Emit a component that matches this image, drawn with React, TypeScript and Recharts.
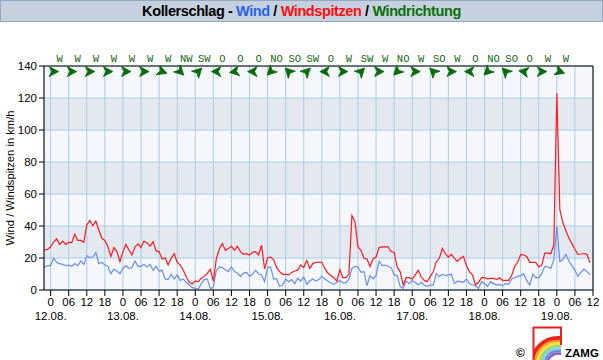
import React from 'react';
import { ComposedChart, Line, Scatter, XAxis, YAxis, CartesianGrid, ReferenceLine } from 'recharts';

// hourly values, first sample is 11.08. 22:00
const START_HOUR = -2;

const gust = [
  25, 25.4,
  27, 30, 32, 28.5, 30.6, 28.5, 29.8, 29.6, 34.8, 31, 31, 29.8, 40.6, 43.5, 40.2, 43, 37.5, 32.3, 31, 27, 21, 26.5, 24, 17.7,
  24, 28.5, 25, 21.9, 26.9, 29, 26.5, 30.6, 29.4, 27.3, 30.2, 24.4, 24, 19.4, 20.2, 15.6, 19.8, 22.7, 17.3, 15.6, 12.5, 8.3, 4.8, 3.8,
  5.6, 5.2, 7.3, 8.5, 10.4, 12.9, 5.6, 19.8, 25.6, 29, 24.8, 26, 27.3, 24.8, 27.3, 24, 22.3, 22.7, 21.9, 23.5, 24, 21.9, 28, 13.1,
  20.2, 20.6, 19, 14, 11.5, 9.8, 9.8, 9.4, 11, 11.9, 12.3, 15.6, 14, 18.5, 13.5, 16.5, 17.3, 17.5, 17.3, 13.5, 10.6, 9, 7.7, 5.6,
  12.7, 7.7, 7.7, 9.8, 46.5, 42.7, 26.9, 24.8, 19.8, 19.4, 14.8, 19.4, 20.6, 26.5, 26.9, 26.9, 26.9, 24, 23.5, 14.4, 11.5, 3.1, 7.7, 7.7,
  6.9, 9.4, 12.3, 8.1, 6, 5.2, 8.5, 11.5, 17.7, 19.8, 26, 22.7, 20.6, 22.3, 19.8, 17.9, 19.8, 21, 15.2, 11.5, 9.4, 3.1, 4.8, 7.7,
  7.7, 6.9, 7.3, 7.3, 6.5, 7.7, 6, 6, 6, 9, 14.8, 17.3, 22.3, 21.9, 21, 17.3, 17.3, 17.3, 14.4, 15.6, 23.1, 23.1, 22.7, 28.1,
  123, 50, 42, 37, 32.5, 29, 25.5, 22.3, 22.5, 22.8, 22.3, 17,
];

const wind = [
  14.4, 15.2,
  15.2, 19.8, 17.3, 16.5, 16, 15.2, 15.6, 14.8, 16.5, 15.2, 18.1, 16, 21.5, 20.2, 20.6, 23.5, 16.5, 17.3, 15.6, 14.8, 10.2, 13.1, 11.9, 10.2,
  13.5, 15.2, 13.5, 14, 18.1, 14.8, 14.8, 16, 14.4, 16, 12.3, 14.8, 11.9, 12.3, 6.9, 6.5, 9.8, 6.9, 9.4, 6, 6.9, 4.8, 3.1, 1.5,
  1, 0.6, 4, 6.5, 6.9, 1, 1.5, 12.3, 14.4, 14, 12.7, 11.5, 14.4, 11.5, 10.6, 8.5, 10.6, 11, 8.5, 9.8, 12.3, 10.2, 9.4, 5.2,
  14, 14.4, 6.9, 6.9, 2.3, 3.1, 6.9, 5.2, 6.5, 4, 7.3, 5.6, 8.1, 3.5, 5.6, 6.9, 5.6, 6.5, 8.5, 6.9, 5.6, 4.4, 3.5, 4.8,
  6, 4.4, 4.4, 6.9, 13.5, 14.8, 14.4, 11, 11.5, 2.7, 9, 6.9, 9, 18.1, 15.2, 15.6, 14.8, 14, 9.4, 9, 2.3, 1, 5.6, 4,
  6, 4.8, 3.1, 4.8, 3.1, 2.3, 3.1, 3.1, 10.2, 8.5, 9.8, 9, 9.4, 9.8, 4, 5.5, 5.2, 4.8, 6.9, 4, 3.1, 2.7, 1, 5.2,
  4, 2.3, 5.2, 4, 3.1, 3.5, 2.7, 4, 3.5, 6.9, 7.7, 8.5, 9, 10.2, 6, 3.1, 9.8, 7.7, 7.7, 10.2, 14.8, 14.4, 13.5, 19,
  39.8, 17.7, 19, 22.3, 18.1, 15.2, 12.3, 8.5, 11, 13.1, 11.5, 9.4,
];

const dayLabels = ['12.08.', '13.08.', '14.08.', '15.08.', '16.08.', '17.08.', '18.08.', '19.08.'];
const hourTicks = [0, 6, 12, 18, 24, 30, 36, 42, 48, 54, 60, 66, 72, 78, 84, 90, 96, 102, 108, 114, 120, 126, 132, 138, 144, 150, 156, 162, 168, 174, 180];
const yTicks = [0, 20, 40, 60, 80, 100, 120, 140];

// wind direction marks along the top
const dirHours = [3, 9, 15, 21, 27, 33, 39, 45, 51, 57, 63, 69, 75, 81, 87, 93, 99, 105, 111, 117, 123, 129, 135, 141, 147, 153, 159, 165, 171];
const dirLabels = ['W', 'W', 'W', 'W', 'W', 'W', 'W', 'NW', 'SW', 'O', 'O', 'O', 'NO', 'SO', 'SW', 'O', 'W', 'SW', 'W', 'NO', 'W', 'SO', 'W', 'O', 'NO', 'SO', 'O', 'W', 'W'];
const dirDegrees = [270, 270, 270, 270, 270, 270, 290, 315, 225, 90, 80, 90, 45, 135, 225, 90, 270, 225, 270, 45, 270, 135, 270, 90, 45, 135, 100, 270, 290];

const ARROW_LEVEL = 136.5;
const GREEN = '#0b6b0b';

const series = gust.map((g, i) => ({ h: START_HOUR + i, gust: g, wind: wind[i] }));
const dirRows = dirHours.map((h, i) => ({ h, lvl: ARROW_LEVEL, label: dirLabels[i], deg: dirDegrees[i] }));

const HourTick = (props: any) => {
  const { x, y, payload } = props;
  const h = payload.value;
  const hh = h % 24;
  const txt = hh === 0 ? '0' : hh === 6 ? '06' : String(hh);
  const day = h / 24;
  return (
    <g>
      <text x={x} y={y} dy="0.71em" textAnchor="middle" fontSize={11.5} fill="#000">{txt}</text>
      {hh === 0 && dayLabels[day] && (
        <text x={x} y={y + 14} dy="0.71em" textAnchor="middle" fontSize={11.5} fill="#000">{dayLabels[day]}</text>
      )}
    </g>
  );
};

const DirMark = (props: any) => {
  const { cx, cy, payload } = props;
  if (cx == null || cy == null) return null;
  const angle = payload.deg + 90;
  return (
    <g>
      <text x={cx} y={cy - 9.5} textAnchor="middle" fontSize={10.5} fontFamily="'Liberation Mono', monospace" fill={GREEN}>
        {payload.label}
      </text>
      <polygon
        points="5,0 -4.5,-5 -2,0 -4.5,5"
        fill={GREEN}
        stroke={GREEN}
        strokeWidth={0.8}
        strokeLinejoin="round"
        transform={`translate(${cx - 6},${cy}) rotate(${angle})`}
      />
    </g>
  );
};

export default function App() {
  return (
    <div style={{ position: 'relative', width: 603, height: 360, background: '#fff', fontFamily: "'Liberation Sans', Arial, sans-serif" }}>
      <style>{'body{margin:0}'}</style>
      <div
        style={{
          position: 'absolute', left: 0, top: 0, width: 601, height: 20, lineHeight: '20px',
          background: '#c5d1de', border: '1px solid #93a8c0', textAlign: 'center',
          fontSize: 14.5, fontWeight: 'bold', letterSpacing: -0.4, color: '#000',
        }}
      >
        <span>Kollerschlag - </span>
        <span style={{ color: '#2a62e6' }}>Wind</span>
        <span> / </span>
        <span style={{ color: '#ff0d0d' }}>Windspitzen</span>
        <span> / </span>
        <span style={{ color: '#0b6e0b' }}>Windrichtung</span>
      </div>

      <ComposedChart width={603} height={360} margin={{ top: 66, right: 10, left: 4, bottom: 30 }}>
        <CartesianGrid stroke="#a9cce9" horizontalFill={['#f5f7fa', '#e4e9f0']} fillOpacity={1} />
        <XAxis
          dataKey="h"
          type="number"
          domain={[-2.2, 180]}
          ticks={hourTicks}
          interval={0}
          height={40}
          tickSize={6}
          axisLine={{ stroke: '#000' }}
          tickLine={{ stroke: '#000' }}
          tick={<HourTick />}
        />
        <YAxis
          type="number"
          domain={[0, 140]}
          ticks={yTicks}
          width={40}
          tickSize={5}
          axisLine={{ stroke: '#000' }}
          tickLine={{ stroke: '#000' }}
          tick={{ fontSize: 11.5, fill: '#000' }}
        />
        <ReferenceLine y={140} stroke="#000" />
        <ReferenceLine x={180} stroke="#000" />
        <Line data={series} dataKey="wind" type="linear" stroke="#6a8ff0" strokeWidth={1.2} dot={false} isAnimationActive={false} />
        <Line data={series} dataKey="gust" type="linear" stroke="#ff1a1a" strokeWidth={1.2} dot={false} isAnimationActive={false} />
        <Scatter data={dirRows} dataKey="lvl" shape={DirMark} isAnimationActive={false} />
      </ComposedChart>

      <svg width={603} height={360} style={{ position: 'absolute', left: 0, top: 0, pointerEvents: 'none' }}>
        <text transform="translate(13.5,178) rotate(-90)" textAnchor="middle" fontSize={11.2} fill="#000">
          Wind / Windspitzen in km/h
        </text>
        <defs>
          <clipPath id="logoClip">
            <rect x={533} y={327} width={28} height={33} />
          </clipPath>
        </defs>
        <text x={516} y={357} fontSize={12} fontWeight="bold" fill="#000">©</text>
        <g clipPath="url(#logoClip)">
          <circle cx={558} cy={364} r={26} fill="none" stroke="#e8221d" strokeWidth={4} />
          <circle cx={558} cy={364} r={23} fill="none" stroke="#f59a23" strokeWidth={2.5} />
          <circle cx={558} cy={364} r={20.5} fill="none" stroke="#f5e33a" strokeWidth={2.5} />
          <circle cx={558} cy={364} r={18} fill="none" stroke="#9fd46a" strokeWidth={2.5} />
          <circle cx={558} cy={364} r={15.5} fill="none" stroke="#7fd0e8" strokeWidth={2.5} />
          <circle cx={558} cy={364} r={13} fill="none" stroke="#6a8fd8" strokeWidth={2.5} />
          <circle cx={558} cy={364} r={10.5} fill="none" stroke="#9a5cc0" strokeWidth={2.5} />
        </g>
        <path d="M533.5 360 V327.5 H561 V345" fill="none" stroke="#e8221d" strokeWidth={2} />
        <text x={565} y={357} fontSize={11.5} fontWeight="bold" fill="#000">ZAMG</text>
      </svg>
    </div>
  );
}
